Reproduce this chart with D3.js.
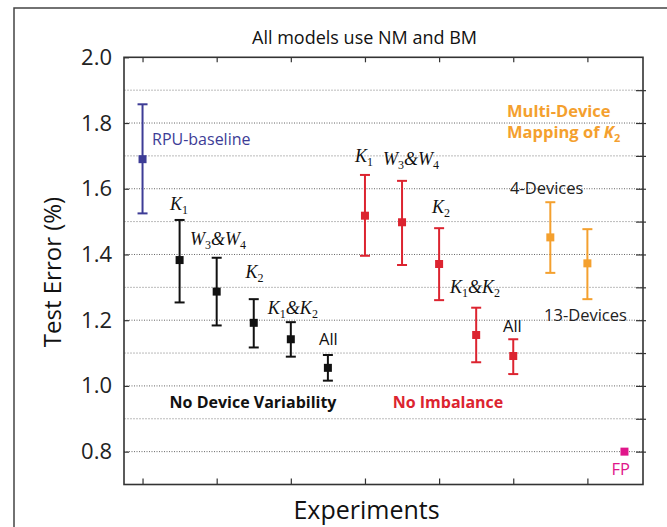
<!DOCTYPE html>
<html><head><meta charset="utf-8">
<script src="https://cdn.jsdelivr.net/npm/d3@7"></script>
<style>
body{margin:0;background:#fff;}
svg{display:block;}
</style></head>
<body>
<svg id="chart" width="667" height="527"></svg>
<script>
// ---- data ----
const groups = ["RPU-baseline","No Device Variability","No Imbalance","Multi-Device Mapping","FP"];
const baselinePos = [1];
const baselineMean = [1.69];
const baselineLow = [1.525];
const baselineHigh = [1.857];

const noVarPos = [1.5, 2, 2.5, 3, 3.5];
const noVarMean = [1.383, 1.287, 1.192, 1.142, 1.055];
const noVarLow = [1.254, 1.184, 1.117, 1.089, 1.016];
const noVarHigh = [1.505, 1.39, 1.264, 1.194, 1.094];

const noImbPos = [4, 4.5, 5, 5.5, 6];
const noImbMean = [1.518, 1.498, 1.371, 1.155, 1.091];
const noImbLow = [1.396, 1.368, 1.261, 1.072, 1.036];
const noImbHigh = [1.642, 1.624, 1.48, 1.238, 1.142];

const multiPos = [6.5, 7];
const multiMean = [1.452, 1.373];
const multiLow = [1.344, 1.264];
const multiHigh = [1.559, 1.477];

const fpPos = [7.5];
const fpMean = [0.80];

const yTickLabels = ["0.8","1.0","1.2","1.4","1.6","1.8","2.0"];
const yGridValues = [0.8,0.9,1.0,1.1,1.2,1.3,1.4,1.5,1.6,1.7,1.8,1.9];
const xTickValues = [1,2,3,4,5,6,7];

// ---- layout ----
const svg = d3.select("#chart");
const L = 124, R = 643, T = 57.3, B = 484.5;
const x = d3.scaleLinear().domain([0.75, 7.75]).range([L, R]);
const y = d3.scaleLinear().domain([0.7, 2.0]).range([B, T]);

const sans = "'Open Sans', 'Noto Sans', sans-serif";
const serif = "'Liberation Serif', 'DejaVu Serif', serif";

// outer frame
svg.append("rect").attr("x",14).attr("y",8).attr("width",700).attr("height",600)
  .attr("fill","none").attr("stroke","#444").attr("stroke-width",1.5);

// gridlines
svg.append("g").selectAll("line").data(yGridValues).join("line")
  .attr("x1",L).attr("x2",R).attr("y1",d=>y(d)).attr("y2",d=>y(d))
  .attr("stroke",d=>Math.round(d*10)%2===0?"#666":"#bbb")
  .attr("stroke-width",1)
  .attr("stroke-dasharray",d=>Math.round(d*10)%2===0?"1,1.5":"2,1");

// axes
const yAxis = d3.axisLeft(y).tickValues(yTickLabels.map(Number))
  .tickFormat((d,i)=>yTickLabels[i]).tickSize(-5).tickPadding(12);
const gy = svg.append("g").attr("transform",`translate(${L},0)`).call(yAxis);
gy.select(".domain").remove();
gy.selectAll("line").attr("stroke","#333").attr("stroke-width",1.2);
gy.selectAll("text").attr("font-family",sans).attr("font-size",22).attr("fill","#222");

const yAxisR = d3.axisRight(y).tickValues(yGridValues).tickFormat("").tickSize(3);
const gyr = svg.append("g").attr("transform",`translate(${R},0)`).call(yAxisR);
gyr.select(".domain").remove();
gyr.selectAll("line").attr("x1",-7).attr("stroke","#333").attr("stroke-width",1.2);

const xTop = d3.axisTop(x).tickValues(xTickValues).tickFormat("").tickSize(-5);
const gxt = svg.append("g").attr("transform",`translate(0,${T})`).call(xTop);
gxt.select(".domain").remove();
gxt.selectAll("line").attr("stroke","#333").attr("stroke-width",1.2);

const xBot = d3.axisBottom(x).tickValues(xTickValues).tickFormat("").tickSize(-6);
const gxb = svg.append("g").attr("transform",`translate(0,${B})`).call(xBot);
gxb.select(".domain").remove();
gxb.selectAll("line").attr("stroke","#333").attr("stroke-width",1.2);

// plot frame
svg.append("rect").attr("x",L).attr("y",T).attr("width",R-L).attr("height",B-T)
  .attr("fill","none").attr("stroke","#333").attr("stroke-width",1.6);

// error bars
function drawSeries(pos, mean, low, high, color){
  const g = svg.append("g");
  const data = pos.map((p,i)=>({p, m:mean[i], lo:low?low[i]:null, hi:high?high[i]:null}));
  const withErr = data.filter(d=>d.lo!==null);
  g.selectAll(".v").data(withErr).join("line")
    .attr("x1",d=>x(d.p)).attr("x2",d=>x(d.p)).attr("y1",d=>y(d.lo)).attr("y2",d=>y(d.hi))
    .attr("stroke",color).attr("stroke-width",2);
  ["lo","hi"].forEach(k=>{
    g.selectAll(".c"+k).data(withErr).join("line")
      .attr("x1",d=>x(d.p)-5).attr("x2",d=>x(d.p)+5).attr("y1",d=>y(d[k])).attr("y2",d=>y(d[k]))
      .attr("stroke",color).attr("stroke-width",2);
  });
  g.selectAll("rect").data(data).join("rect")
    .attr("x",d=>x(d.p)-4).attr("y",d=>y(d.m)-4).attr("width",8).attr("height",8)
    .attr("fill",color);
}
const cBlue="#3d3c96", cBlack="#111", cRed="#dc2430", cOrange="#f4a02e", cMag="#e0168a";
drawSeries(baselinePos, baselineMean, baselineLow, baselineHigh, cBlue);
drawSeries(noVarPos, noVarMean, noVarLow, noVarHigh, cBlack);
drawSeries(noImbPos, noImbMean, noImbLow, noImbHigh, cRed);
drawSeries(multiPos, multiMean, multiLow, multiHigh, cOrange);
drawSeries(fpPos, fpMean, null, null, cMag);

// math labels: parts [text, italic?, sub?]
function mathLabel(px, py, parts, color){
  const t = svg.append("text").attr("x",x(px)).attr("y",y(py))
    .attr("font-family",serif).attr("font-size",18).attr("fill",color);
  let prevSub = false;
  parts.forEach(([s,it,sub])=>{
    const ts = t.append("tspan").text(s);
    if(it) ts.attr("font-style","italic");
    if(sub){ ts.attr("font-size",12).attr("dy",prevSub?0:4); }
    else { ts.attr("dy", prevSub ? -4 : 0); }
    prevSub = !!sub;
  });
  return t;
}
const K1 = [["K",1,0],["1",0,1]];
const K2 = [["K",1,0],["2",0,1]];
const W34 = [["W",1,0],["3",0,1],["&",1,0],["W",1,0],["4",0,1]];
const K12 = [["K",1,0],["1",0,1],["&",1,0],["K",1,0],["2",0,1]];

mathLabel(1.37, 1.535, K1, "#111");
mathLabel(1.64, 1.43, W34, "#111");
mathLabel(2.39, 1.328, K2, "#111");
mathLabel(2.69, 1.22, K12, "#111");
mathLabel(3.866, 1.681, K1, "#111");
mathLabel(4.243, 1.672, W34, "#111");
mathLabel(4.904, 1.526, K2, "#111");
mathLabel(5.147, 1.283, K12, "#111");

function label(px, py, s, opts){
  return svg.append("text").attr("x",x(px)).attr("y",y(py)).text(s)
    .attr("font-family",sans).attr("font-size",opts.size||16.5)
    .attr("font-weight",opts.weight||"normal").attr("fill",opts.color||"#111")
    .attr("text-anchor",opts.anchor||"start");
}
label(3.38, 1.126, "All", {});
label(5.862, 1.165, "All", {});
label(1.128, 1.733, "RPU-baseline", {color:cBlue, size:16});
label(2.49, 0.932, "No Device Variability", {weight:"bold", anchor:"middle", size:16});
label(5.12, 0.932, "No Imbalance", {weight:"bold", anchor:"middle", size:16, color:cRed});
label(5.956, 1.584, "4-Devices", {color:"#222"});
label(6.415, 1.197, "13-Devices", {color:"#222"});
label(7.45, 0.729, "FP", {color:cMag, anchor:"middle"});
label(5.916, 1.818, "Multi-Device", {weight:"bold", size:16.5, color:cOrange});
const mp = label(5.916, 1.754, "Mapping of ", {weight:"bold", size:16.5, color:cOrange});
mp.append("tspan").text("K").attr("font-style","italic");
mp.append("tspan").text("2").attr("font-size",11).attr("dy",4);

// titles
svg.append("text").attr("x",364.5).attr("y",44).attr("text-anchor","middle")
  .attr("font-family",sans).attr("font-size",18).attr("fill","#111").text("All models use NM and BM");
svg.append("text").attr("x",366.5).attr("y",519).attr("text-anchor","middle")
  .attr("font-family",sans).attr("font-size",25).attr("fill","#111").text("Experiments");
svg.append("text").attr("transform","translate(61,272) rotate(-90)").attr("text-anchor","middle")
  .attr("font-family",sans).attr("font-size",24).attr("fill","#111").text("Test Error (%)");
</script>
</body></html>
